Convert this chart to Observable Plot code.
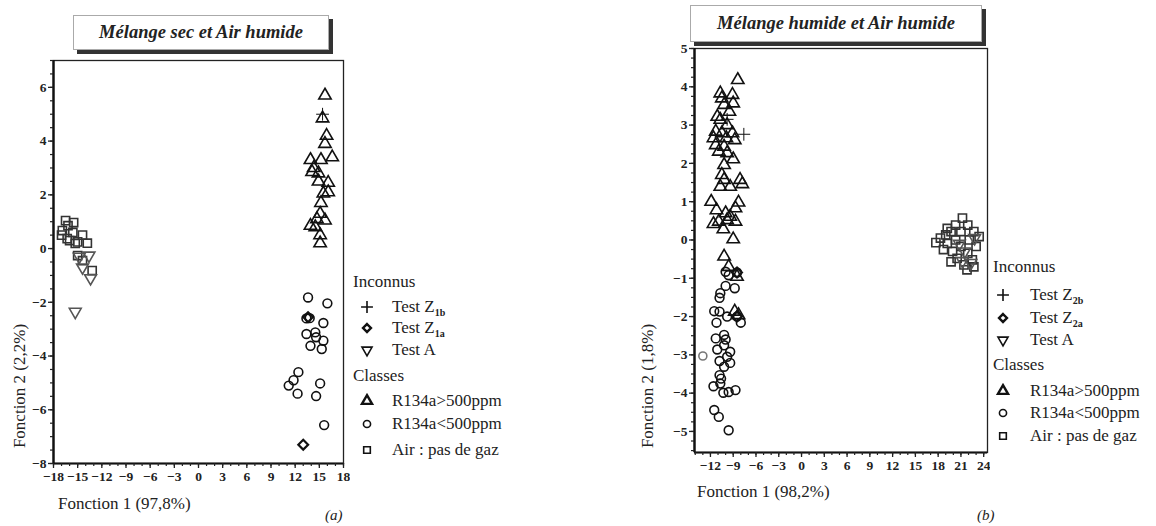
<!DOCTYPE html>
<html><head><meta charset="utf-8">
<script src="https://cdn.jsdelivr.net/npm/d3@7"></script>
<script src="https://cdn.jsdelivr.net/npm/@observablehq/plot@0.6"></script>
<style>
body{margin:0;background:#fff;font-family:"Liberation Serif","Times New Roman","DejaVu Serif",serif;color:#222;}
#root{position:relative;width:1156px;height:526px;overflow:hidden;}
.tbox{position:absolute;border:1px solid #aaa;background:#fff;box-shadow:4px 4px 0 #333;font-weight:bold;font-style:italic;font-size:18.5px;display:flex;align-items:center;justify-content:center;white-space:nowrap;}
.lg{position:absolute;font-size:17px;line-height:20px;white-space:nowrap;}
.lg sub{font-size:10px;vertical-align:-4px;font-weight:bold;}
.ylab{position:absolute;font-size:17px;transform:translate(-50%,-50%) rotate(-90deg);white-space:nowrap;}
.xlab{position:absolute;font-size:17px;white-space:nowrap;}
svg text{font-family:"Liberation Serif","Times New Roman",serif;}
</style></head>
<body><div id="root"></div>
<script>
// ---------- Chart (a): Mélange sec et Air humide ----------
const aTitle = "Mélange sec et Air humide";
const aXLabel = "Fonction 1 (97,8%)";
const aYLabel = "Fonction 2 (2,2%)";
const aXTicks = [-18,-15,-12,-9,-6,-3,0,3,6,9,12,15,18];
const aYTicks = [-8,-6,-4,-2,0,2,4,6];
const aTriUp = [[15.7,5.7],[15.4,4.85],[15.9,4.2],[15.7,3.9],[16.6,3.4],[13.9,3.3],[15.2,3.3],[14.3,3.0],[14.1,2.85],[14.9,2.8],[14.9,2.5],[16.1,2.45],[16.1,2.1],[15.5,2.05],[15.2,1.7],[15.1,1.3],[14.7,1.1],[15.7,1.05],[13.9,0.85],[14.5,0.8],[15.1,0.5],[15.1,0.2]];
const aCircle = [[13.6,-1.82],[16.0,-2.04],[13.8,-2.59],[13.4,-2.6],[15.5,-2.77],[13.4,-3.18],[14.5,-3.12],[14.6,-3.3],[15.5,-3.43],[13.9,-3.62],[15.3,-3.74],[12.4,-4.6],[11.8,-4.9],[11.2,-5.1],[12.3,-5.4],[15.1,-5.02],[14.6,-5.49],[15.6,-6.57]];
const aSquare = [[-16.5,1.04],[-15.5,0.97],[-16.9,0.67],[-15.6,0.6],[-14.4,0.5],[-16.3,0.37],[-13.8,0.2],[-15.3,0.19],[-15.0,-0.26],[-14.4,-0.45],[-13.2,-0.82],[-16.0,0.3],[-15.0,0.25],[-17.0,0.5],[-16.2,0.85]];
const aTestA = [[-13.6,-0.26],[-14.4,-0.7],[-13.4,-1.1],[-15.3,-2.35],[-14.8,-0.3]];
const aPlus = [[15.4,5.0]];
const aDiamond = [[13.6,-2.55],[13.0,-7.3]];

// ---------- Chart (b): Mélange humide et Air humide ----------
const bTitle = "Mélange humide et Air humide";
const bXLabel = "Fonction 1 (98,2%)";
const bYLabel = "Fonction 2 (1,8%)";
const bXTicks = [-12,-9,-6,-3,0,3,6,9,12,15,18,21,24];
const bYTicks = [-5,-4,-3,-2,-1,0,1,2,3,4,5];
const bTriUp = [[-8.4,4.18],[-10.7,3.83],[-9.1,3.79],[-10.5,3.7],[-10.2,3.53],[-9.0,3.57],[-9.5,3.35],[-11.1,3.22],[-10.7,3.14],[-9.8,3.0],[-11.3,2.83],[-10.5,2.79],[-9.1,2.79],[-11.6,2.66],[-9.9,2.66],[-8.8,2.61],[-11.3,2.48],[-10.2,2.44],[-10.9,2.31],[-9.8,2.27],[-9.0,2.11],[-10.2,1.96],[-10.5,1.7],[-10.2,1.57],[-8.1,1.57],[-10.7,1.39],[-9.4,1.39],[-7.8,1.46],[-11.9,1.0],[-8.3,0.98],[-11.2,0.78],[-8.7,0.83],[-10.0,0.7],[-9.4,0.61],[-10.9,0.48],[-9.8,0.52],[-8.7,0.48],[-11.6,0.42],[-10.3,0.28],[-9.0,0.02],[-10.2,-0.43],[-9.6,-0.7],[-8.5,-0.96],[-8.8,-1.87],[-8.3,-1.96]];
const bCircle = [[-10.0,-0.83],[-9.6,-0.92],[-8.5,-0.85],[-10.0,-1.2],[-8.8,-1.26],[-10.7,-1.39],[-10.8,-1.51],[-11.5,-1.86],[-10.8,-1.87],[-9.8,-2.0],[-8.5,-2.0],[-8.0,-2.16],[-11.2,-2.16],[-10.2,-2.48],[-11.3,-2.57],[-10.0,-2.6],[-10.2,-2.75],[-11.1,-2.86],[-9.4,-2.92],[-9.8,-3.05],[-10.8,-3.16],[-9.4,-3.21],[-10.2,-3.31],[-10.8,-3.53],[-10.6,-3.62],[-11.6,-3.82],[-10.7,-3.75],[-10.3,-3.99],[-9.6,-3.97],[-8.7,-3.92],[-11.5,-4.44],[-10.9,-4.62],[-9.6,-4.97]];
const bCircleGray = [[-13.0,-3.03]];
const bSquare = [[21.2,0.57],[20.3,0.39],[21.9,0.39],[22.7,0.22],[21.0,0.22],[19.7,0.22],[19.0,0.13],[23.4,0.09],[20.3,0.0],[22.1,0.0],[19.2,-0.09],[21.0,-0.17],[23.0,-0.17],[19.9,-0.3],[21.9,-0.35],[20.5,-0.48],[22.5,-0.52],[19.7,-0.57],[21.4,-0.65],[22.7,-0.7],[21.8,-0.78],[17.7,-0.07],[18.3,0.05],[18.7,-0.25],[19.2,0.3]];
const bTestA = [[21.5,-0.3],[22.3,-0.6],[20.8,-0.1],[21.2,-0.55],[22.8,0.05]];
const bPlus = [[-7.6,2.76],[-9.8,3.15]];
const bDiamond = [[-8.5,-0.85],[-8.5,-2.0]];

// ---------- Legends ----------
const aLegend = [
  {kind:"head", text:"Inconnus"},
  {kind:"plus", html:"Test Z<sub>1b</sub>"},
  {kind:"diamond", html:"Test Z<sub>1a</sub>"},
  {kind:"down", html:"Test A"},
  {kind:"head", text:"Classes"},
  {kind:"triangle", html:"R134a&gt;500ppm"},
  {kind:"circle", html:"R134a&lt;500ppm"},
  {kind:"square", html:"Air : pas de gaz"}
];
const bLegend = [
  {kind:"head", text:"Inconnus"},
  {kind:"plus", html:"Test Z<sub>2b</sub>"},
  {kind:"diamond", html:"Test Z<sub>2a</sub>"},
  {kind:"down", html:"Test A"},
  {kind:"head", text:"Classes"},
  {kind:"triangle", html:"R134a&gt;500ppm"},
  {kind:"circle", html:"R134a&lt;500ppm"},
  {kind:"square", html:"Air : pas de gaz"}
];

const root = document.getElementById("root");
const px = d => d[0], py = d => d[1];

function range(a, b, s){ const o=[]; for(let v=a; v<=b+1e-9; v+=s) o.push(+v.toFixed(4)); return o; }

function makeChart(cfg){
  const st = {stroke:"#111", fill:"none", strokeWidth:1.6};
  const marks = [
    Plot.frame({stroke:"#222", strokeWidth:1.3}),
    Plot.ruleX([cfg.xd[0]], {stroke:"#111", strokeWidth:2.4}),
    Plot.ruleY([cfg.yd[0]], {stroke:"#111", strokeWidth:2}),
    Plot.axisX({ticks: cfg.xMinor, tickSize:3, text:null, stroke:"#222", strokeWidth:1.2}),
    Plot.axisY({ticks: cfg.yMinor, tickSize:3, text:null, stroke:"#222", strokeWidth:1.2}),
    Plot.axisX({ticks: cfg.xTicks, tickSize:5, tickPadding:3, fontSize:13.5, fontWeight:"bold", label:null, strokeWidth:1.3}),
    Plot.axisY({ticks: cfg.yTicks, tickSize:5, tickPadding:2, fontSize:13.5, fontWeight:"bold", label:null, strokeWidth:1.3}),
    Plot.dot(cfg.square, {x:px, y:py, symbol:"square", r:4.6, ...st, stroke:"#333"}),
    Plot.dot(cfg.testA, {x:px, y:py, symbol:"triangle", rotate:180, r:4.4, ...st, stroke:"#555"}),
    Plot.dot(cfg.tri, {x:px, y:py, symbol:"triangle", r:4.6, ...st}),
    Plot.dot(cfg.circle, {x:px, y:py, symbol:"circle", r:4.4, ...st}),
    Plot.dot(cfg.gray || [], {x:px, y:py, symbol:"circle", r:4, ...st, stroke:"#777"}),
    Plot.dot(cfg.diamond, {x:px, y:py, symbol:"diamond2", r:4.4, stroke:"#111", fill:"none", strokeWidth:2.2}),
    Plot.dot(cfg.plus, {x:px, y:py, symbol:"plus", r:4.2, stroke:"#111", strokeWidth:1})
  ];
  const svg = Plot.plot({
    width: cfg.width, height: cfg.height,
    marginLeft: cfg.ml, marginRight: cfg.mr, marginTop: cfg.mt, marginBottom: cfg.mb,
    x: {domain: cfg.xd},
    y: {domain: cfg.yd},
    style: {background:"transparent", fontFamily:"'Liberation Serif', 'Times New Roman', serif", color:"#222"},
    marks
  });
  svg.style.position = "absolute";
  svg.style.left = cfg.left + "px";
  svg.style.top = cfg.top + "px";
  root.appendChild(svg);
}

function symPath(kind){
  const m = {triangle:d3.symbolTriangle, down:d3.symbolTriangle, circle:d3.symbolCircle, square:d3.symbolSquare, diamond:d3.symbolDiamond2, plus:d3.symbolPlus};
  const size = {triangle:44, down:44, circle:40, square:44, diamond:40, plus:48}[kind];
  return d3.symbol().type(m[kind]).size(size)();
}

function makeLegend(items, cfg){
  items.forEach((it, i) => {
    const y = cfg.ys[i];
    if (it.kind === "head"){
      const d = document.createElement("div");
      d.className = "lg"; d.textContent = it.text;
      d.style.left = cfg.hx + "px"; d.style.top = (y - 10) + "px";
      root.appendChild(d);
    } else {
      const ns = "http://www.w3.org/2000/svg";
      const s = document.createElementNS(ns, "svg");
      s.setAttribute("width", 16); s.setAttribute("height", 16);
      s.style.position = "absolute"; s.style.left = (cfg.sx - 8) + "px"; s.style.top = (y - 8) + "px";
      const p = document.createElementNS(ns, "path");
      p.setAttribute("d", symPath(it.kind));
      let tr = "translate(8,8)";
      if (it.kind === "down") tr += " rotate(180)";
      p.setAttribute("transform", tr);
      p.setAttribute("fill", "none");
      p.setAttribute("stroke", "#111");
      p.setAttribute("stroke-width", it.kind === "diamond" || it.kind === "triangle" ? 2.4 : 1.6);
      s.appendChild(p);
      root.appendChild(s);
      const d = document.createElement("div");
      d.className = "lg"; d.innerHTML = it.html;
      d.style.left = cfg.tx + "px"; d.style.top = (y - 10) + "px";
      root.appendChild(d);
    }
  });
}

function addText(cls, txt, left, top, extra){
  const d = document.createElement("div");
  d.className = cls; d.textContent = txt;
  d.style.left = left + "px"; d.style.top = top + "px";
  if (extra) Object.assign(d.style, extra);
  root.appendChild(d);
}

// Chart (a)
makeChart({left:0, top:0, width:350, height:492, ml:53, mr:7, mt:60, mb:29,
  xd:[-18,18], yd:[-8,7], xTicks:aXTicks, yTicks:aYTicks,
  xMinor: range(-18,18,1), yMinor: range(-8,7,0.5),
  tri:aTriUp, circle:aCircle, square:aSquare, testA:aTestA, plus:aPlus, diamond:aDiamond});
const ta = document.createElement("div");
ta.className = "tbox"; ta.textContent = aTitle;
Object.assign(ta.style, {left:"73px", top:"15px", width:"254px", height:"33px"});
root.appendChild(ta);
addText("ylab", aYLabel, 20, 386);
addText("xlab", aXLabel, 58, 494);
addText("xlab", "(a)", 325, 507, {fontStyle:"italic", fontSize:"15px"});
makeLegend(aLegend, {hx:353, sx:367, tx:392, ys:[282,307,328,350,376,401,424,450]});

// Chart (b)
makeChart({left:640, top:0, width:350, height:481, ml:54, mr:3, mt:48, mb:29,
  xd:[-14.1,24.5], yd:[-5.55,5], xTicks:bXTicks, yTicks:bYTicks,
  xMinor: range(-14,24,1), yMinor: range(-5.5,5,0.25),
  tri:bTriUp, circle:bCircle, gray:bCircleGray, square:bSquare, testA:bTestA, plus:bPlus, diamond:bDiamond});
const tb = document.createElement("div");
tb.className = "tbox"; tb.textContent = bTitle;
Object.assign(tb.style, {left:"690px", top:"5px", width:"290px", height:"35px"});
root.appendChild(tb);
addText("ylab", bYLabel, 648, 386);
addText("xlab", bXLabel, 697, 482);
addText("xlab", "(b)", 977, 507, {fontStyle:"italic", fontSize:"15px"});
makeLegend(bLegend, {hx:993, sx:1003, tx:1030, ys:[267,295,318,340,365,391,413,436]});
</script></body></html>
